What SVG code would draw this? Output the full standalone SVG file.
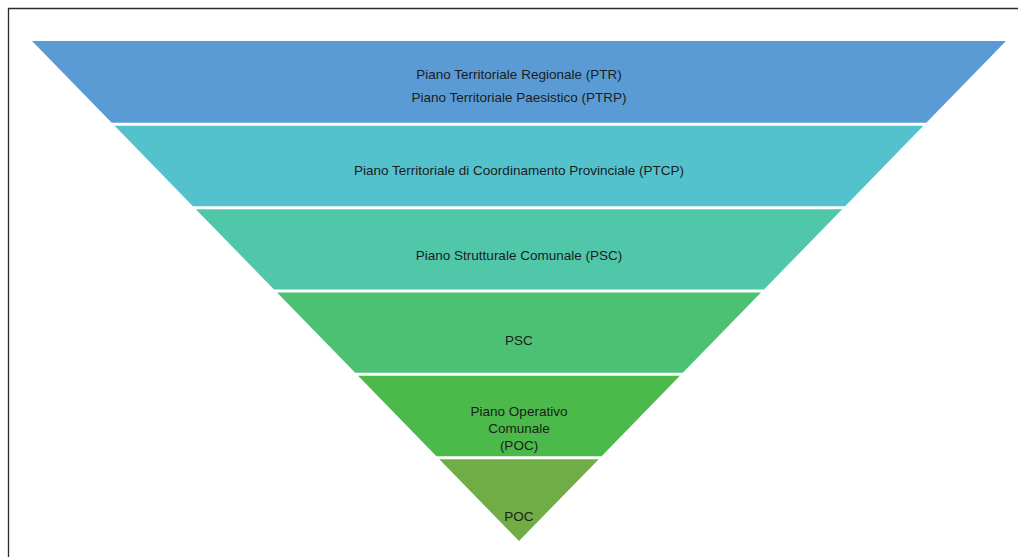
<svg xmlns="http://www.w3.org/2000/svg" width="1018" height="557" viewBox="0 0 1018 557">
<style>
.t{font-family:"Liberation Sans",Arial,sans-serif;font-size:13.5px;fill:#1c1c1c;text-anchor:middle}
</style>
<rect width="1018" height="557" fill="#ffffff"/>
<path d="M8.5,557 V8.5 H1018" fill="none" stroke="#2b2b2b" stroke-width="1.3"/>
<g id="band1"><polygon points="32,41 1006,41 926.3,122.8 111.7,122.8" fill="#5B9BD5"/>
<text class="t" x="519" y="79">Piano Territoriale Regionale (PTR)</text>
<text class="t" x="519" y="102">Piano Territoriale Paesistico (PTRP)</text></g>
<g id="band2"><polygon points="114.6,125.8 923.4,125.8 845.1,206.2 192.9,206.2" fill="#53C2CD"/>
<text class="t" x="519" y="175">Piano Territoriale di Coordinamento Provinciale (PTCP)</text></g>
<g id="band3"><polygon points="195.8,209.2 842.2,209.2 764,289.5 274,289.5" fill="#51C7A9"/>
<text class="t" x="519" y="260">Piano Strutturale Comunale (PSC)</text></g>
<g id="band4"><polygon points="277,292.5 761,292.5 682.8,372.8 355.2,372.8" fill="#4DC173"/>
<text class="t" x="519" y="345">PSC</text></g>
<g id="band5"><polygon points="358.1,375.8 679.9,375.8 601.6,456.2 436.4,456.2" fill="#4BBA4A"/>
<text class="t" x="519" y="416">Piano Operativo</text>
<text class="t" x="519" y="433">Comunale</text>
<text class="t" x="519" y="450">(POC)</text></g>
<g id="band6"><polygon points="439.3,459.2 598.7,459.2 519,541" fill="#70AD47"/>
<text class="t" x="519" y="521">POC</text></g>
<g id="connectors"/>
</svg>
